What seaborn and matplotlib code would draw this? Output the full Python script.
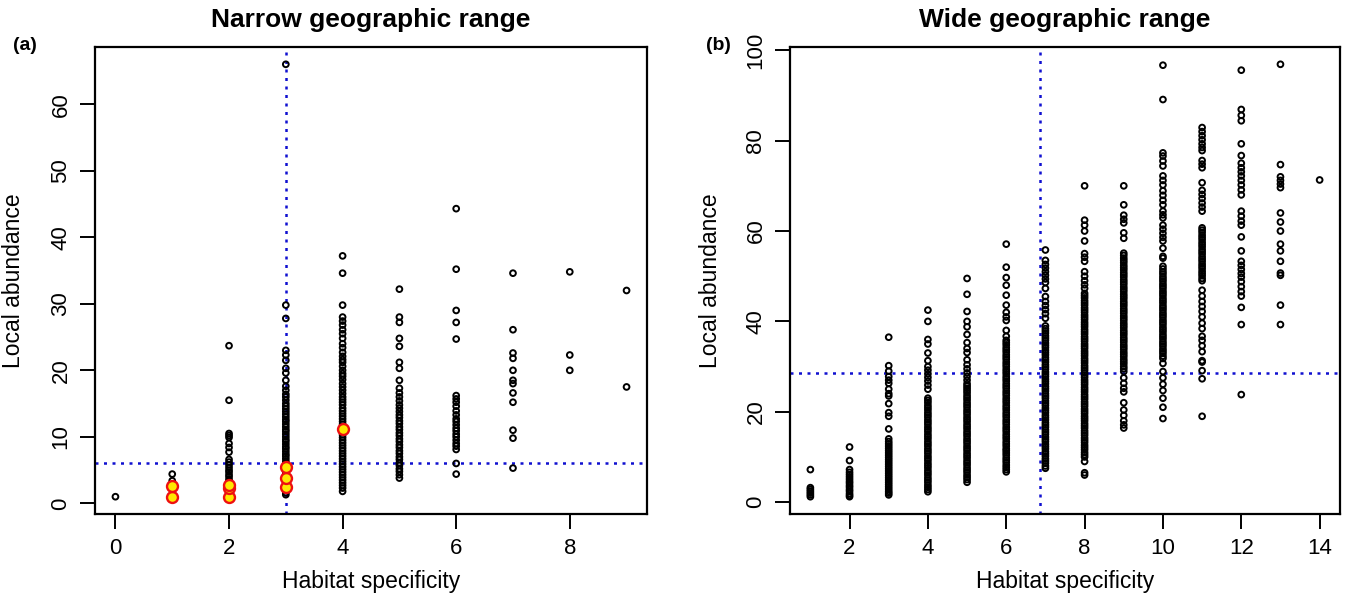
import numpy as np
import pandas as pd
import matplotlib
matplotlib.use("Agg")
import matplotlib.pyplot as plt
import seaborn as sns

# ---- data: local abundance per habitat-specificity class ----

# (a) narrow geographic range
narrow = {
    0: [1.0],
    1: [1.0, 2.6, 3.4, 4.4],
    2: [1.0, 1.2, 1.5, 1.8, 2.1, 2.4, 2.7, 3.0, 3.3, 3.6, 4.0, 4.3, 4.7, 5.0, 5.4,
        5.8, 6.2, 6.6, 7.7, 8.4, 9.0, 9.9, 10.2, 10.5, 15.5, 23.7],
    3: [1.3, 1.6, 2.0, 2.3, 2.7, 3.0, 3.4, 3.8, 4.1, 4.5, 4.9, 5.2, 5.6, 6.0, 6.3,
        6.7, 7.1, 7.4, 7.8, 8.2, 8.5, 8.9, 9.3, 9.6, 10.0, 10.4, 10.8, 11.1, 11.5,
        11.9, 12.3, 12.6, 13.0, 13.4, 13.8, 14.2, 14.6, 15.0, 15.5, 16.0, 16.4,
        17.0, 17.6, 18.5, 19.6, 20.3, 21.5, 22.3, 23.0, 27.8, 29.8, 66.0],
    4: [1.8, 2.3, 2.7, 3.1, 3.5, 3.9, 4.3, 4.7, 5.1, 5.5, 5.9, 6.3, 6.7, 7.1, 7.5,
        7.9, 8.3, 8.7, 9.1, 9.5, 9.9, 10.3, 10.7, 11.1, 11.5, 11.9, 12.3, 12.7,
        13.1, 13.5, 13.9, 14.3, 14.8, 15.2, 15.6, 16.0, 16.5, 17.0, 17.5, 18.0,
        18.6, 19.1, 19.5, 20.0, 20.6, 21.2, 21.6, 22.1, 22.7, 23.4, 24.0, 24.8,
        25.5, 26.1, 26.8, 27.4, 28.0, 29.8, 34.6, 37.2],
    5: [3.8, 4.3, 4.8, 5.2, 5.7, 6.1, 6.6, 7.0, 7.5, 7.9, 8.4, 8.8, 9.3, 9.7, 10.2,
        10.6, 11.1, 11.5, 12.0, 12.4, 12.9, 13.3, 13.8, 14.3, 14.8, 15.4, 16.0,
        16.6, 17.3, 18.5, 20.3, 21.2, 23.6, 24.8, 27.2, 28.0, 32.2],
    6: [4.4, 6.0, 8.1, 8.6, 9.0, 9.5, 10.0, 10.4, 10.9, 11.3, 11.8, 12.3, 12.7,
        13.3, 13.9, 14.6, 15.2, 15.7, 16.2, 24.7, 27.2, 29.0, 35.2, 44.3],
    7: [5.3, 9.8, 11.0, 15.2, 16.6, 18.0, 18.5, 20.0, 21.8, 22.6, 26.1, 34.6],
    8: [20.0, 22.3, 34.8],
    9: [17.5, 32.0],
}
# species highlighted in red/yellow in panel (a)
hl_x = [1, 1, 2, 2, 2, 3, 3, 3, 4]
hl_y = [1.0, 2.6, 1.0, 2.3, 2.7, 2.5, 3.8, 5.4, 11.2]
narrow_vline = 3
narrow_hline = 6.1

# (b) wide geographic range
wide = {
    1: [1.2, 1.6, 2.0, 2.4, 2.8, 3.2, 7.2],
    2: [1.2, 1.5, 1.9, 2.4, 2.8, 3.3, 3.7, 4.2, 4.6, 5.1, 5.6, 6.1, 6.6, 7.2, 9.2, 12.2],
    3: [1.6, 2.0, 2.4, 2.9, 3.4, 3.9, 4.4, 4.9, 5.4, 5.9, 6.4, 6.9, 7.4, 7.9, 8.4,
        8.9, 9.4, 9.9, 10.4, 10.9, 11.4, 11.9, 12.4, 12.9, 13.4, 14.0, 16.2, 19.0,
        19.8, 21.8, 23.5, 24.0, 25.0, 26.3, 27.0, 27.8, 29.0, 30.2, 36.5],
    4: [2.3, 2.8, 3.3, 3.8, 4.4, 4.9, 5.4, 6.0, 6.5, 7.0, 7.6, 8.1, 8.6, 9.2, 9.7,
        10.2, 10.8, 11.3, 11.8, 12.4, 12.9, 13.4, 14.0, 14.5, 15.0, 15.6, 16.1,
        16.6, 17.2, 17.7, 18.2, 18.8, 19.3, 19.8, 20.4, 20.9, 21.4, 22.0, 22.5,
        23.0, 25.0, 25.9, 26.8, 27.6, 28.4, 29.2, 30.0, 31.3, 33.0, 35.0, 36.0,
        40.0, 42.5],
    5: [4.4, 5.0, 5.5, 6.0, 6.6, 7.1, 7.6, 8.2, 8.7, 9.2, 9.8, 10.3, 10.8, 11.4,
        11.9, 12.4, 13.0, 13.5, 14.0, 14.6, 15.1, 15.6, 16.2, 16.7, 17.2, 17.8,
        18.3, 18.8, 19.4, 19.9, 20.4, 21.0, 21.5, 22.0, 22.6, 23.1, 23.6, 24.2,
        24.7, 25.2, 25.7, 26.2, 27.0, 27.8, 28.6, 29.5, 30.4, 31.5, 33.1, 34.0,
        35.3, 37.1, 38.8, 40.0, 42.2, 46.0, 49.5],
    6: [6.7, 7.2, 7.7, 8.2, 8.8, 9.3, 9.8, 10.4, 10.9, 11.4, 11.8, 12.4, 12.9, 13.4,
        14.0, 14.5, 15.0, 15.6, 16.1, 16.6, 17.2, 17.7, 18.2, 18.8, 19.3, 19.8,
        20.4, 20.9, 21.4, 22.0, 22.5, 23.0, 23.6, 24.1, 24.6, 25.2, 25.7, 26.2,
        26.8, 27.3, 27.8, 28.4, 28.9, 29.4, 30.0, 30.5, 31.0, 31.6, 32.1, 32.6,
        33.2, 33.7, 34.2, 34.8, 35.3, 35.8, 36.7, 38.0, 40.2, 41.0, 42.0, 43.6,
        45.8, 48.0, 49.7, 52.0, 57.1],
    7: [7.5, 8.0, 8.6, 9.1, 9.6, 10.2, 10.7, 11.2, 11.8, 12.3, 12.8, 13.4, 13.9,
        14.4, 15.0, 15.5, 16.0, 16.6, 17.1, 17.6, 18.2, 18.7, 19.2, 19.8, 20.3,
        20.8, 21.4, 21.9, 22.4, 23.0, 23.5, 24.0, 24.6, 25.1, 25.6, 26.2, 26.7,
        27.2, 27.8, 28.3, 28.8, 29.4, 29.9, 30.4, 31.0, 31.5, 32.0, 32.6, 33.1,
        33.6, 34.2, 34.7, 35.2, 35.8, 36.3, 36.8, 37.4, 37.9, 38.4, 39.0, 40.7,
        41.7, 42.6, 43.5, 44.4, 45.5, 47.3, 48.6, 49.4, 50.2, 51.0, 51.8, 52.6,
        53.5, 55.8],
    8: [6.0, 6.5, 9.0, 10.0, 10.5, 11.0, 11.6, 12.1, 12.6, 13.2, 13.7, 14.2, 14.8,
        15.3, 15.8, 16.4, 16.9, 17.4, 18.0, 18.5, 19.0, 19.6, 20.1, 20.6, 21.2,
        21.7, 22.2, 22.8, 23.3, 23.8, 24.4, 24.9, 25.4, 26.0, 26.5, 27.0, 27.6,
        28.1, 28.6, 29.2, 29.7, 30.2, 30.8, 31.3, 31.8, 32.4, 32.9, 33.4, 34.0,
        34.5, 35.0, 35.6, 36.1, 36.6, 37.2, 37.7, 38.2, 38.8, 39.3, 39.8, 40.4,
        40.9, 41.4, 42.0, 42.5, 43.0, 43.6, 44.1, 44.6, 45.2, 45.7, 46.2, 47.3,
        48.1, 49.0, 50.0, 51.0, 53.3, 54.2, 55.0, 57.8, 60.0, 61.3, 62.4, 70.0],
    9: [16.4, 17.1, 18.0, 19.2, 20.4, 22.0, 24.4, 25.2, 26.3, 27.5, 28.9, 29.5,
        30.0, 30.6, 31.1, 31.6, 32.2, 32.7, 33.2, 33.8, 34.3, 34.8, 35.4, 35.9,
        36.4, 37.0, 37.5, 38.0, 38.6, 39.1, 39.6, 40.2, 40.7, 41.2, 41.8, 42.3,
        42.8, 43.4, 43.9, 44.4, 45.0, 45.5, 46.0, 46.6, 47.1, 47.6, 48.2, 48.7,
        49.2, 49.8, 50.3, 50.8, 51.4, 51.9, 52.4, 53.0, 53.5, 54.0, 54.6, 55.1,
        58.4, 59.6, 61.8, 62.6, 63.5, 65.8, 70.0],
    10: [18.5, 21.0, 23.0, 24.7, 26.1, 27.5, 28.9, 30.7, 31.8, 32.3, 32.9, 33.4,
         33.9, 34.5, 35.0, 35.5, 36.1, 36.6, 37.1, 37.7, 38.2, 38.7, 39.3, 39.8,
         40.3, 40.9, 41.4, 41.9, 42.5, 43.0, 43.5, 44.1, 44.6, 45.1, 45.7, 46.2,
         46.7, 47.3, 47.8, 48.3, 48.9, 49.4, 49.9, 50.5, 51.0, 51.6, 52.2, 54.0,
         54.4, 56.2, 57.8, 58.6, 59.5, 60.4, 61.3, 62.9, 63.6, 64.4, 65.8, 66.8,
         67.9, 68.9, 70.2, 71.2, 72.2, 74.4, 75.5, 76.6, 77.3, 89.1, 96.7],
    11: [19.0, 27.3, 29.1, 31.0, 31.3, 33.3, 34.6, 35.8, 36.7, 38.4, 39.6, 41.0,
         42.2, 43.3, 44.4, 45.6, 46.9, 49.0, 49.5, 50.1, 50.6, 51.1, 51.7, 52.2,
         52.7, 53.3, 53.8, 54.3, 54.9, 55.4, 55.9, 56.5, 57.0, 57.5, 58.1, 58.6,
         59.1, 59.7, 60.2, 60.7, 64.4, 65.3, 66.2, 67.2, 68.1, 69.0, 70.7, 74.0,
         74.8, 75.6, 77.8, 78.5, 79.3, 80.2, 81.1, 82.0, 82.9],
    12: [23.8, 39.3, 43.1, 45.6, 46.6, 47.7, 48.8, 49.8, 50.6, 51.5, 52.4, 53.3,
         55.6, 58.7, 61.3, 62.2, 63.3, 64.4, 68.0, 69.1, 70.2, 71.2, 72.2, 73.1,
         74.0, 75.0, 76.7, 79.3, 84.4, 85.6, 86.9, 95.6],
    13: [39.3, 43.6, 50.2, 50.7, 53.3, 55.6, 57.1, 60.0, 62.0, 64.0, 69.6, 70.4,
         71.2, 72.0, 74.7, 96.9],
    14: [71.3],
}
wide_vline = 6.85
wide_hline = 28.6


def to_frame(cols):
    xs, ys = [], []
    for k, vals in cols.items():
        xs += [k] * len(vals)
        ys += vals
    return pd.DataFrame({"specificity": xs, "abundance": ys})


df_a = to_frame(narrow)
df_b = to_frame(wide)
df_hl = pd.DataFrame({"specificity": hl_x, "abundance": hl_y})

sns.set_style("white")
plt.rcParams["font.family"] = ["Liberation Sans", "DejaVu Sans"]
plt.rcParams["text.color"] = "black"
plt.rcParams["axes.labelcolor"] = "black"

fig = plt.figure(figsize=(13.46, 6.0), dpi=100)
W, H = 1346, 600
ax_a = fig.add_axes([95 / W, 1 - 514 / H, 552 / W, 467 / H])
ax_b = fig.add_axes([790 / W, 1 - 514 / H, 550 / W, 467 / H])


def r_range(lo, hi):
    pad = (hi - lo) * 0.04
    return lo - pad, hi + pad


def style(ax, df, xticks, yticks):
    ax.set_xlim(*r_range(df.specificity.min(), df.specificity.max()))
    ax.set_ylim(*r_range(df.abundance.min(), df.abundance.max()))
    ax.set_xticks(xticks)
    ax.set_yticks(yticks)
    for sp in ax.spines.values():
        sp.set_visible(True)
        sp.set_color("black")
        sp.set_linewidth(1.6)
    ax.tick_params(direction="out", length=11, width=1.4, colors="black",
                   labelcolor="black", labelsize=16, pad=6, bottom=True, left=True)
    ax.tick_params(axis="y", labelrotation=90)
    for lab in ax.get_yticklabels():
        lab.set_va("center")
    ax.set_xlabel("Habitat specificity", fontsize=16.5, color="black")
    ax.set_ylabel("Local abundance", fontsize=16.5, color="black")
    ax.xaxis.set_label_coords(0.5, -0.145)
    ax.xaxis.label.set_va("center")


pt_kw = dict(s=17, facecolor="none", edgecolor="black", linewidth=1.4, legend=False)
line_kw = dict(color="#1010d0", linestyle=(0, (1.2, 2.2)), linewidth=1.8, zorder=1)

# panel (a)
sns.scatterplot(data=df_a, x="specificity", y="abundance", ax=ax_a, zorder=2, **pt_kw)
ax_a.axvline(narrow_vline, **line_kw)
ax_a.axhline(narrow_hline, **line_kw)
sns.scatterplot(data=df_hl, x="specificity", y="abundance", ax=ax_a, s=62,
                facecolor="#ffe800", edgecolor="#ee1010", linewidth=1.7,
                legend=False, zorder=3)
style(ax_a, df_a, [0, 2, 4, 6, 8], [0, 10, 20, 30, 40, 50, 60])
ax_a.yaxis.set_label_coords(-0.127, 0.5)

# panel (b)
sns.scatterplot(data=df_b, x="specificity", y="abundance", ax=ax_b, zorder=2, **pt_kw)
ax_b.axvline(wide_vline, **line_kw)
ax_b.axhline(wide_hline, **line_kw)
style(ax_b, df_b, [2, 4, 6, 8, 10, 12, 14], [0, 20, 40, 60, 80, 100])
ax_b.yaxis.set_label_coords(-0.124, 0.5)

fig.text(371 / W, 1 - 20 / H, "Narrow geographic range", ha="center", va="center",
         fontsize=19, fontweight="bold")
fig.text(1065 / W, 1 - 20 / H, "Wide geographic range", ha="center", va="center",
         fontsize=19, fontweight="bold")
fig.text(25 / W, 1 - 45 / H, "(a)", ha="center", va="center", fontsize=14, fontweight="bold")
fig.text(718 / W, 1 - 45 / H, "(b)", ha="center", va="center", fontsize=14, fontweight="bold")

fig.savefig("out.png", dpi=100, facecolor="white")
